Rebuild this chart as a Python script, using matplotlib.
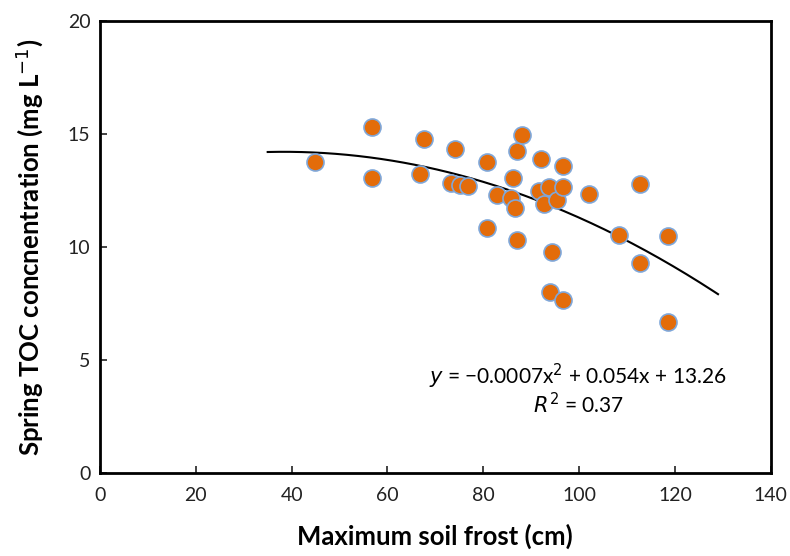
import numpy as np
import matplotlib.pyplot as plt

# dane
frost = [44.9, 56.8, 56.8, 67.7, 66.8, 74.0, 73.2, 75.2, 76.9, 80.7, 80.7, 82.8,
         85.8, 86.7, 86.3, 87.1, 88.1, 87.1, 92.0, 91.7, 92.7, 93.8, 95.3, 96.7,
         96.7, 94.4, 93.9, 96.7, 102.1, 108.4, 112.7, 112.7, 118.6, 118.6]
toc = [13.75, 15.32, 13.08, 14.78, 13.23, 14.34, 12.85, 12.74, 12.71, 13.76, 10.85, 12.30,
       12.18, 11.71, 13.05, 14.26, 14.97, 10.31, 13.92, 12.49, 11.93, 12.64, 12.08, 12.64,
       13.61, 9.79, 8.02, 7.65, 12.33, 10.55, 12.79, 9.29, 10.49, 6.68]
fit_range = [35, 129]

plt.rcParams['font.family'] = ['Lato', 'DejaVu Sans']

fig = plt.figure(figsize=(7.9, 5.56), dpi=100)
ax = fig.add_axes([0.1266, 0.149, 0.849, 0.813])

ax.scatter(frost, toc, s=150, c='#E36C0A', edgecolors='#7FA7D9', linewidths=1.2, zorder=3)

# trend kwadratowy
coef = np.polyfit(frost, toc, 2)
xx = np.linspace(fit_range[0], fit_range[1], 200)
ax.plot(xx, np.polyval(coef, xx), color='black', lw=1.5, zorder=2)

ax.text(99.8, 4.29, r'$y$ = −0.0007x$^2$ + 0.054x + 13.26', ha='center', va='center', fontsize=15)
ax.text(99.8, 3.05, r'$R^2$ = 0.37', ha='center', va='center', fontsize=15)

ax.set_xlim(0, 140)
ax.set_ylim(0, 20)
ax.set_xticks(range(0, 141, 20))
ax.set_yticks(range(0, 21, 5))
ax.tick_params(direction='in', length=5, width=1.2, labelsize=14, colors='#222222', pad=7)
ax.tick_params(axis='x', pad=10)
for s in ax.spines.values():
    s.set_linewidth(2)

ax.set_xlabel('Maximum soil frost (cm)', fontsize=18.5, fontweight='bold', labelpad=14)
ax.set_ylabel('Spring TOC concnentration (mg L$^{-1}$)', fontsize=18.5, fontweight='bold', labelpad=16)

fig.savefig('out.png', dpi=100)
